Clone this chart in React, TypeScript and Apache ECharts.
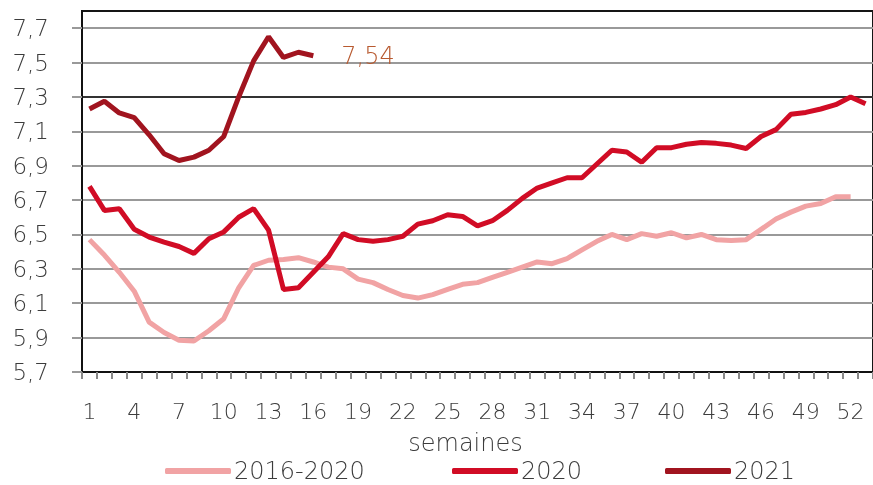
import React, { useEffect, useRef } from "react";
import * as echarts from "echarts";

const weeks = [
  "1","2","3","4","5","6","7","8","9","10","11","12","13","14","15","16","17","18","19","20",
  "21","22","23","24","25","26","27","28","29","30","31","32","33","34","35","36","37","38","39","40",
  "41","42","43","44","45","46","47","48","49","50","51","52","53",
];

const avg2016_2020 = [
  6.47, 6.38, 6.28, 6.17, 5.99, 5.93, 5.885, 5.88, 5.94, 6.01,
  6.19, 6.32, 6.35, 6.355, 6.365, 6.34, 6.31, 6.3, 6.24, 6.22,
  6.18, 6.145, 6.13, 6.15, 6.18, 6.21, 6.22, 6.25, 6.28, 6.31,
  6.34, 6.33, 6.36, 6.41, 6.46, 6.5, 6.47, 6.505, 6.49, 6.51,
  6.48, 6.5, 6.47, 6.465, 6.47, 6.53, 6.59, 6.63, 6.665, 6.68,
  6.72, 6.72,
];

const y2020 = [
  6.78, 6.64, 6.65, 6.53, 6.485, 6.456, 6.43, 6.39, 6.475, 6.515,
  6.6, 6.65, 6.525, 6.18, 6.19, 6.28, 6.37, 6.505, 6.47, 6.46,
  6.47, 6.49, 6.56, 6.58, 6.615, 6.605, 6.55, 6.58, 6.64, 6.71,
  6.77, 6.8, 6.83, 6.83, 6.91, 6.99, 6.98, 6.92, 7.005, 7.005,
  7.025, 7.035, 7.03, 7.02, 7.0, 7.07, 7.11, 7.2, 7.21, 7.23,
  7.255, 7.3, 7.26,
];

const y2021 = [
  7.23, 7.275, 7.207, 7.18, 7.08, 6.97, 6.93, 6.95, 6.99, 7.07,
  7.3, 7.51, 7.65, 7.53, 7.56, 7.54,
];

const yTicks = [5.7, 5.9, 6.1, 6.3, 6.5, 6.7, 6.9, 7.1, 7.3, 7.5, 7.7];
const seriesNames = ["2016-2020", "2020", "2021"];
const seriesColors = ["#f1a3a4", "#d10c25", "#a1141f"];
const legendLefts = [165, 452, 665];

const FONT = "DejaVu Sans";
const TEXT = "#3c3c3c";

export default function App() {
  const ref = useRef<HTMLDivElement>(null);
  useEffect(() => {
    if (!ref.current) return;
    const chart = echarts.init(ref.current, undefined, { renderer: "svg" });
    const fmt = (v: number, d: number) => v.toFixed(d).replace(".", ",");
    chart.setOption({
      animation: false,
      textStyle: { fontFamily: FONT },
      grid: {
        left: 82,
        right: 0,
        top: 11,
        bottom: 113,
        show: true,
        borderColor: "#151515",
        borderWidth: 2,
      },
      legend: seriesNames.map((n, i) => ({
        data: [n],
        left: legendLefts[i],
        top: 459,
        padding: 0,
        itemWidth: 66,
        itemHeight: 6,
        icon: "roundRect",
        textStyle: { fontSize: 24, color: TEXT, fontFamily: FONT, fontWeight: 300, padding: [0, 0, 0, -2] },
      })),
      xAxis: {
        type: "category",
        data: weeks,
        boundaryGap: true,
        name: "semaines",
        nameLocation: "middle",
        nameGap: 59,
        nameTextStyle: { fontSize: 24, color: TEXT, fontFamily: FONT, fontWeight: 300, padding: [0, 24, 0, 0] },
        axisLine: { show: true, lineStyle: { color: "#111", width: 2 } },
        axisTick: { show: true, interval: 0, length: 7, lineStyle: { color: "#888", width: 2 } },
        axisLabel: { interval: 2, fontSize: 22, color: TEXT, margin: 28, fontFamily: FONT, fontWeight: 300 },
        splitLine: { show: false },
      },
      yAxis: {
        type: "value",
        min: 5.7,
        max: 7.8,
        axisLine: { show: true, lineStyle: { color: "#111", width: 2 } },
        axisTick: { show: true, length: 10, customValues: yTicks, lineStyle: { color: "#999", width: 2 } },
        axisLabel: {
          customValues: yTicks,
          fontSize: 23,
          color: TEXT,
          margin: 33,
          fontFamily: FONT,
          fontWeight: 300,
          formatter: (v: number) => fmt(v, 1),
        },
        splitLine: {
          show: true,
          lineStyle: {
            width: 2,
            color: ["#999", "#999", "#999", "#999", "#999", "#999", "#999", "#999", "#333", "#999", "#999"],
          },
        },
      },
      series: [
        {
          name: seriesNames[0],
          type: "line",
          data: avg2016_2020,
          showSymbol: false,
          lineStyle: { width: 5, color: seriesColors[0] },
          itemStyle: { color: seriesColors[0] },
        },
        {
          name: seriesNames[1],
          type: "line",
          data: y2020,
          showSymbol: false,
          lineStyle: { width: 5, color: seriesColors[1] },
          itemStyle: { color: seriesColors[1] },
        },
        {
          name: seriesNames[2],
          type: "line",
          data: y2021,
          showSymbol: false,
          lineStyle: { width: 5, color: seriesColors[2] },
          itemStyle: { color: seriesColors[2] },
          endLabel: {
            show: true,
            distance: 28,
            fontSize: 24,
            color: "#b85a30",
            fontFamily: FONT,
            fontWeight: 300,
            padding: [8, 0, 0, 0],
            formatter: (p: any) => fmt(p.value, 2),
          },
        },
      ],
    });
    return () => chart.dispose();
  }, []);
  return <div ref={ref} style={{ width: 873, height: 485, position: "fixed", left: 0, top: 0 }} />;
}
